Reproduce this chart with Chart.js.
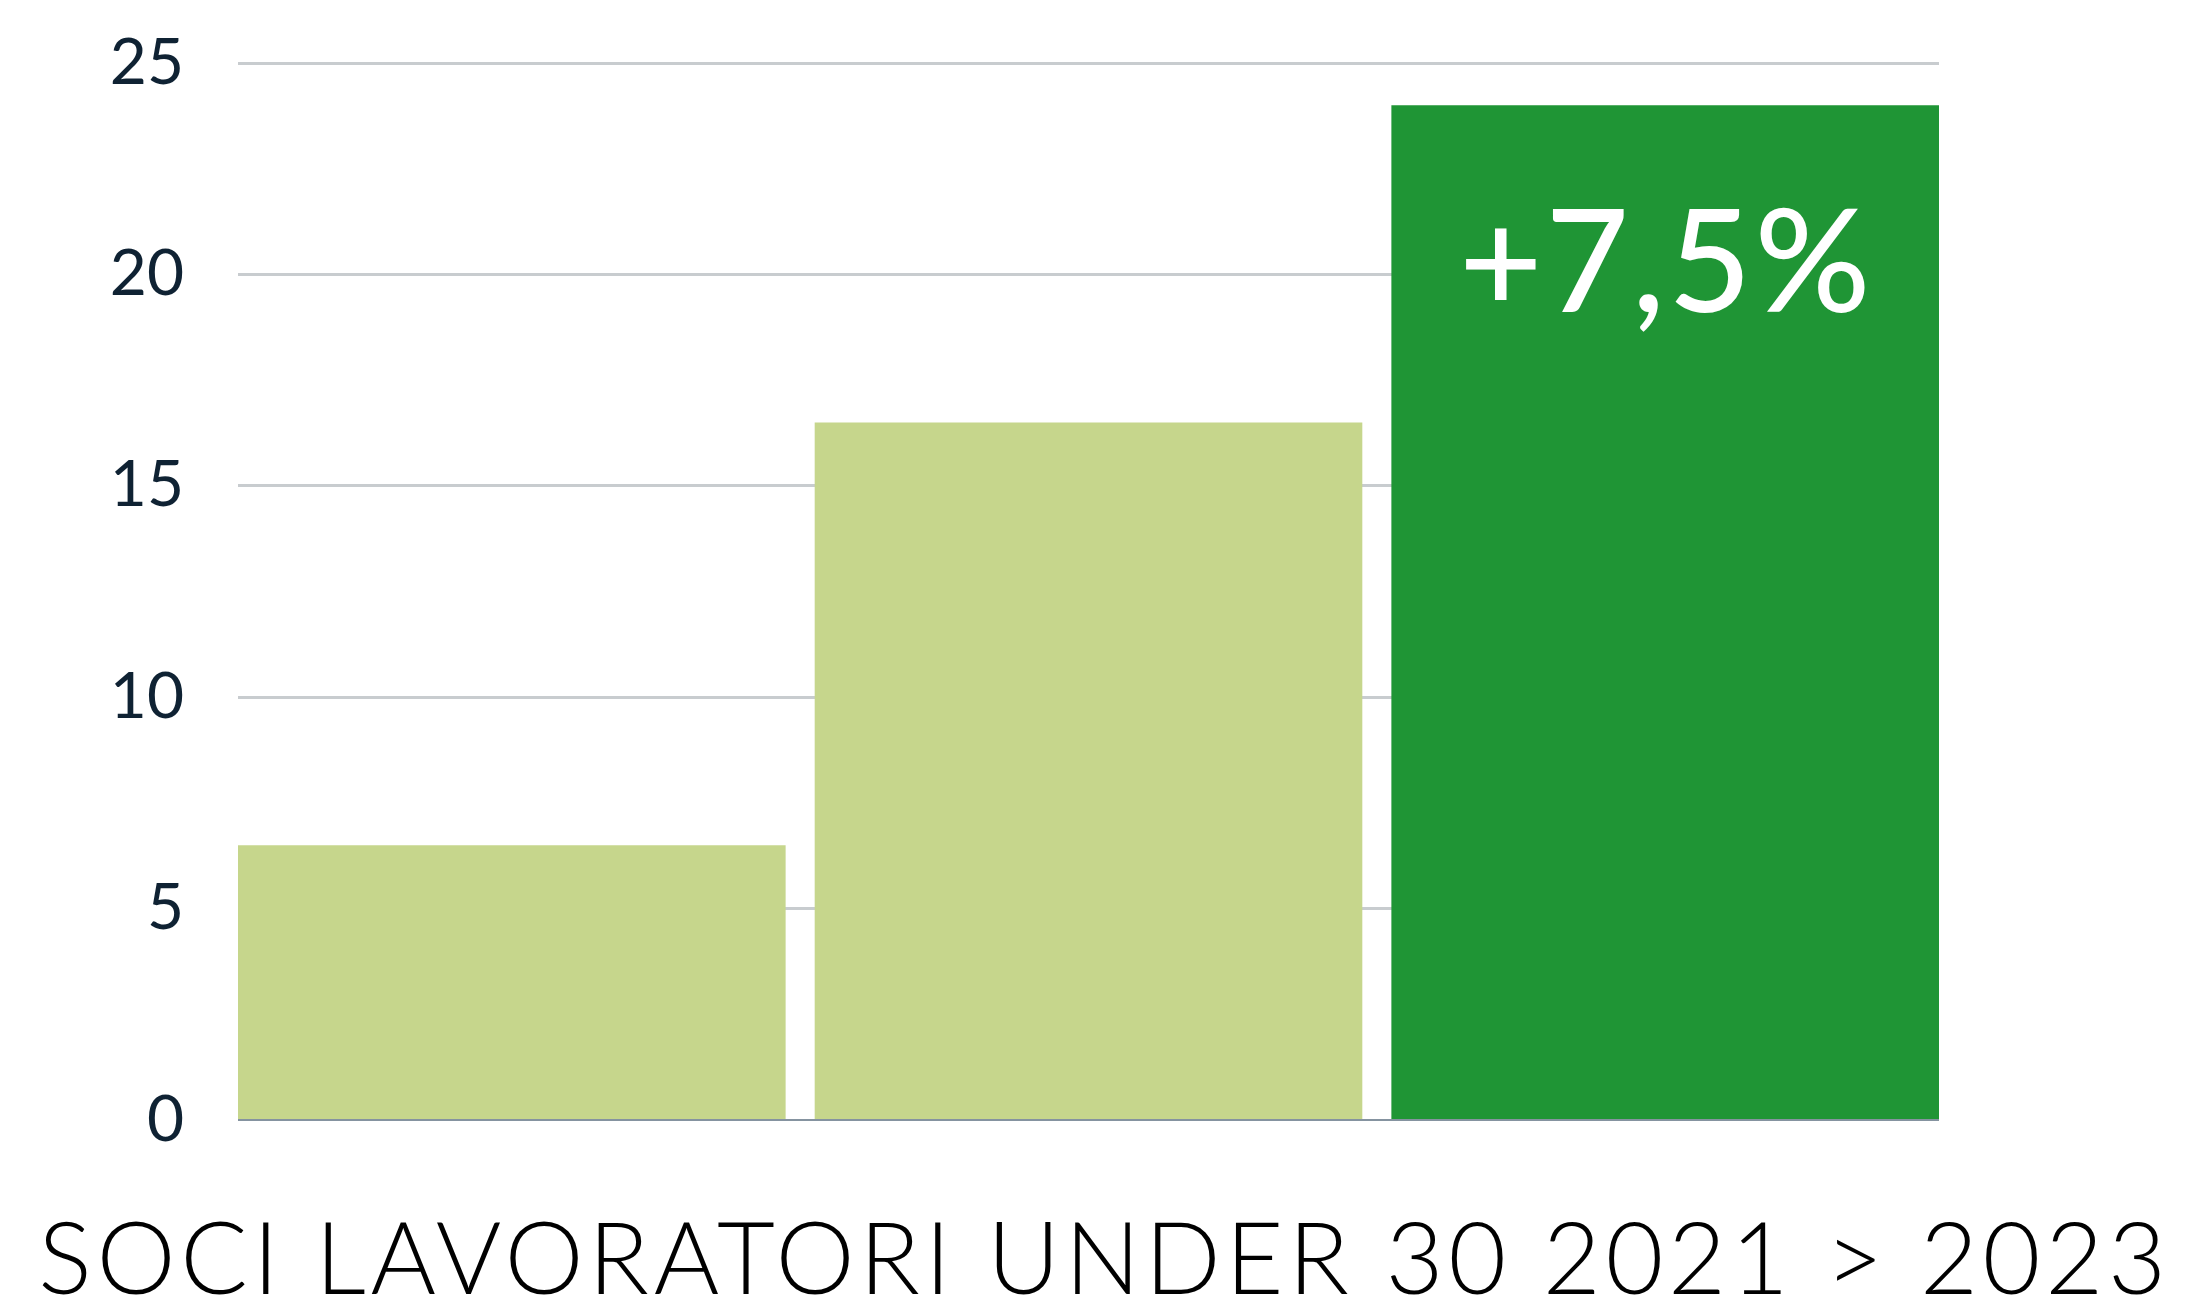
<!DOCTYPE html>
<html>
<head>
<meta charset="utf-8">
<script src="https://cdn.jsdelivr.net/npm/chart.js@4.4.1/dist/chart.umd.min.js"></script>
<style>
  html, body { margin: 0; padding: 0; background: #ffffff; }
  #wrap { width: 2201px; height: 1308px; }
</style>
</head>
<body>
<div id="wrap"><canvas id="c" width="2201" height="1308"></canvas></div>
<script>
const categories = ['2021', '2022', '2023'];
const values = [6.5, 16.5, 24];
const barLabels = ['', '', '+7,5%'];
const barColors = ['#c6d68c', '#c6d68c', '#1f9535'];
const yTicks = [0, 5, 10, 15, 20, 25];
const chartTitle = 'SOCI LAVORATORI UNDER 30 2021 > 2023';

const GAP = 0.0252;

const barLabelPlugin = {
  id: 'barLabelPlugin',
  afterDatasetsDraw(chart) {
    const meta = chart.getDatasetMeta(0);
    const ctx = chart.ctx;
    ctx.save();
    ctx.fillStyle = '#ffffff';
    ctx.font = '500 144px Lato';
    ctx.textAlign = 'center';
    ctx.textBaseline = 'alphabetic';
    if ('letterSpacing' in ctx) ctx.letterSpacing = '3px';
    meta.data.forEach((bar, i) => {
      const t = barLabels[i];
      if (!t) return;
      ctx.fillText(t, bar.x + 1, bar.y + 207);
    });
    ctx.restore();
  }
};

const bottomTitlePlugin = {
  id: 'bottomTitlePlugin',
  afterDraw(chart) {
    const ctx = chart.ctx;
    ctx.save();
    ctx.fillStyle = '#000000';
    ctx.font = '300 100px Lato';
    ctx.textAlign = 'center';
    ctx.textBaseline = 'alphabetic';
    if ('letterSpacing' in ctx) ctx.letterSpacing = '4.7px';
    ctx.fillText(chartTitle, chart.width / 2 + 4, chart.chartArea.bottom + 174);
    ctx.restore();
  }
};

new Chart(document.getElementById('c'), {
  type: 'bar',
  data: {
    labels: categories,
    datasets: [{
      data: values.map((v, i) => ({ x: i, y: v })),
      backgroundColor: barColors,
      borderWidth: 0,
      barPercentage: 1,
      categoryPercentage: 1 - 2 * GAP
    }]
  },
  options: {
    responsive: false,
    animation: false,
    devicePixelRatio: 1,
    layout: { padding: { left: 0, right: 262, top: 63, bottom: 188 } },
    plugins: {
      legend: { display: false },
      tooltip: { enabled: false },
      title: { display: false }
    },
    scales: {
      x: {
        type: 'linear',
        display: false,
        min: -0.5 + GAP,
        max: categories.length - 0.5 - GAP,
        offset: false,
        afterBuildTicks(scale) { scale.ticks = categories.map((c, i) => ({ value: i })); }
      },
      y: {
        min: 0,
        max: 25,
        afterBuildTicks(scale) { scale.ticks = yTicks.map(v => ({ value: v })); },
        afterFit(scale) { scale.width = 238; },
        border: { display: false },
        grid: {
          drawTicks: true,
          tickLength: 50,
          tickColor: 'rgba(0,0,0,0)',
          color: (c) => c.tick && c.tick.value === 0 ? '#8593a0' : '#c8cccf',
          lineWidth: (c) => c.tick && c.tick.value === 0 ? 2 : 3
        },
        ticks: {
          padding: 4,
          color: '#0f2233',
          font: { family: 'Lato', size: 64, weight: '400' }
        }
      }
    }
  },
  plugins: [barLabelPlugin, bottomTitlePlugin]
});
</script>
</body>
</html>
